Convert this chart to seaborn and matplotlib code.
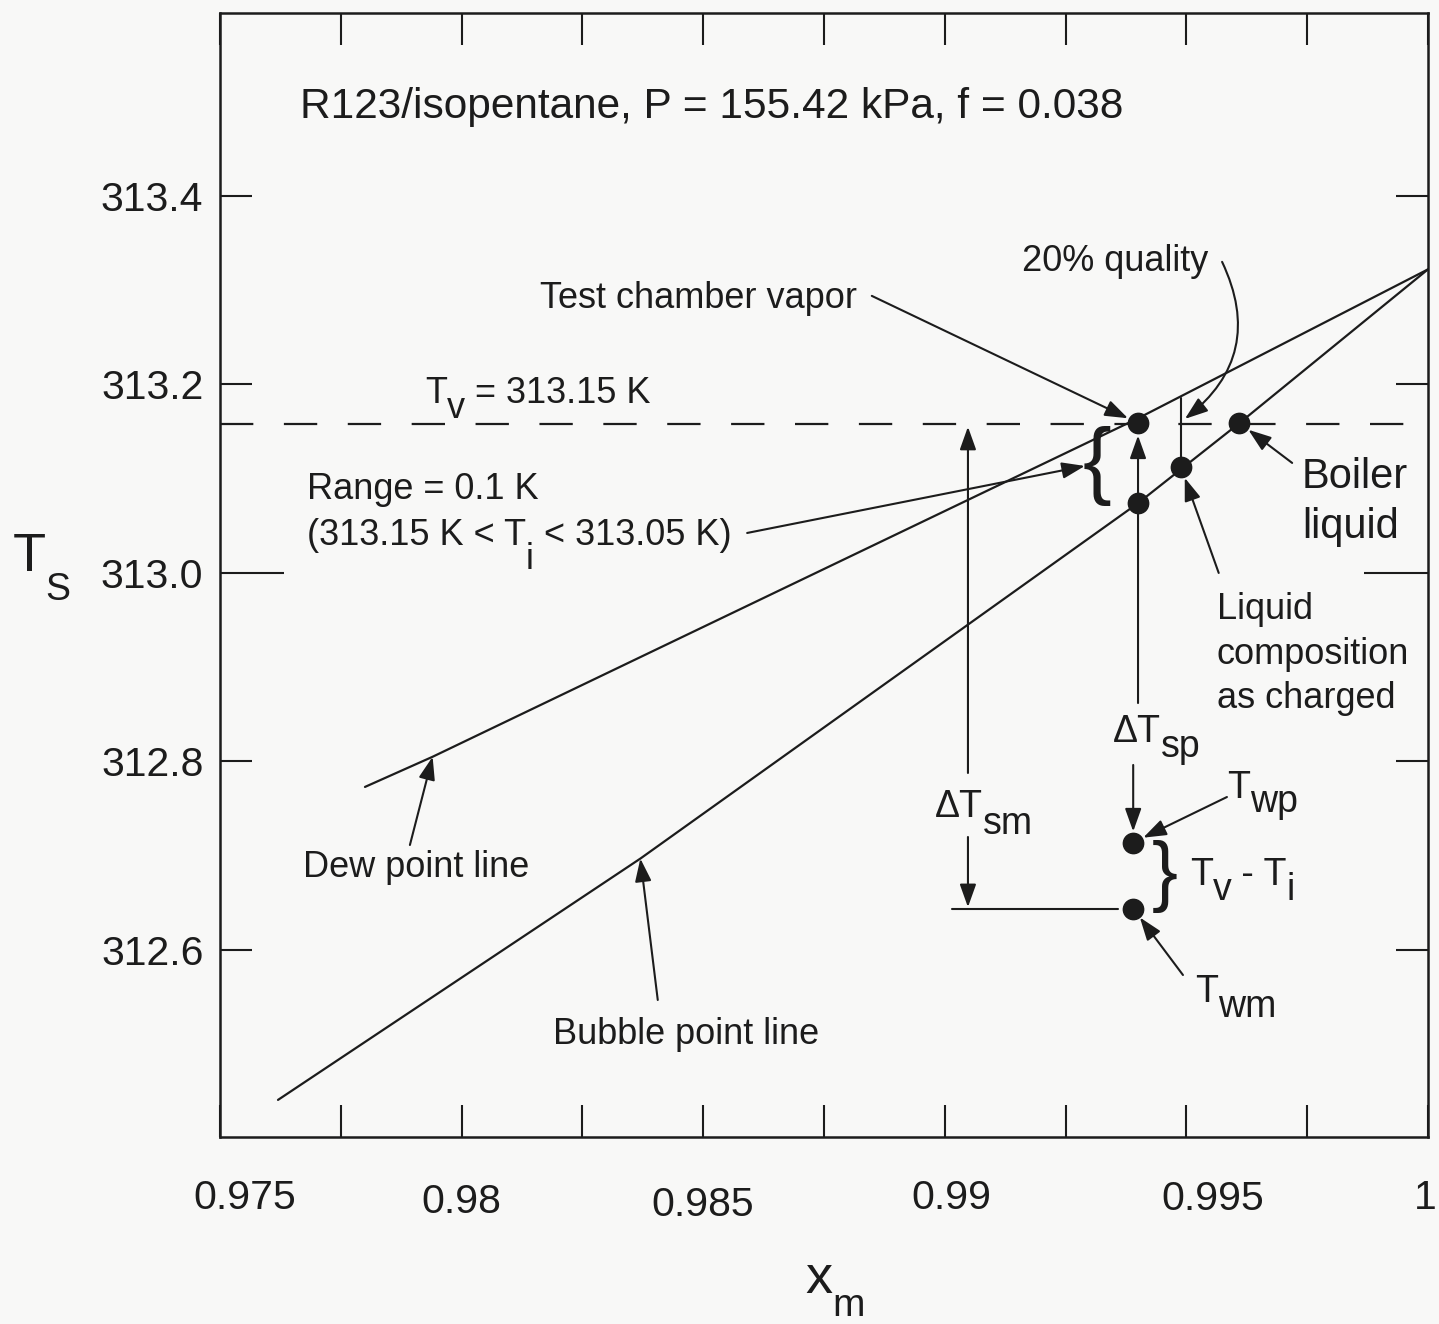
import matplotlib
matplotlib.use("Agg")
import matplotlib.pyplot as plt
from matplotlib.transforms import ScaledTranslation
import seaborn as sns

# dew / bubble point lines (x_m, T_s in K)
dew_x = [0.9780, 0.9794, 0.9940, 1.0]
dew_T = [312.773, 312.805, 313.164, 313.322]
bub_x = [0.9762, 0.9837, 0.9940, 0.9961, 1.0]
bub_T = [312.441, 312.697, 313.074, 313.159, 313.322]

# marked states: vapor, lower T_i, liquid as charged, boiler liquid, T_wp, T_wm
pt_x = [0.9940, 0.9940, 0.99489, 0.9961, 0.9939, 0.9939]
pt_T = [313.159, 313.074, 313.112, 313.159, 312.714, 312.644]

T_v = 313.158
T_dew_quality = 313.186   # top of the 20% quality tick (on dew line)

x_ticks = [0.975, 0.98, 0.985, 0.99, 0.995, 1.0]
x_ticklabels = ['0.975', '0.98', '0.985', '0.99', '0.995', '1']
x_minor = [0.9775, 0.9825, 0.9875, 0.9925, 0.9975]
y_ticks = [312.6, 312.8, 313.0, 313.2, 313.4]
y_ticklabels = ['312.6', '312.8', '313.0', '313.2', '313.4']

ink = '#1c1c1c'

sns.set_theme(style='ticks')
plt.rcParams['font.family'] = ['Liberation Sans', 'DejaVu Sans']
plt.rcParams['lines.scale_dashes'] = False

fig = plt.figure(figsize=(14.39, 13.24), dpi=100)
fig.patch.set_facecolor('#f8f8f7')
ax = fig.add_axes([0.1529, 0.1412, 0.8394, 0.8490])
ax.set_facecolor('#f8f8f7')

sns.lineplot(x=dew_x, y=dew_T, ax=ax, color=ink, lw=1.6, estimator=None)
sns.lineplot(x=bub_x, y=bub_T, ax=ax, color=ink, lw=1.6, estimator=None)
ax.axhline(T_v, color=ink, lw=1.6, dashes=(24, 22))
sns.scatterplot(x=pt_x, y=pt_T, ax=ax, s=210, color=ink, edgecolor=ink, zorder=5)

ax.set_xlim(0.975, 1.0)
ax.set_ylim(312.4016, 313.594)
ax.set_xlabel('')
ax.set_ylabel('')

ax.set_xticks(x_ticks)
ax.set_xticklabels(x_ticklabels)
ax.set_xticks(x_minor, minor=True)
ax.set_yticks(y_ticks)
ax.set_yticklabels(y_ticklabels)
ax.tick_params(axis='both', which='both', direction='in', length=23, width=1.5,
               top=True, right=True, labeltop=False, labelright=False,
               colors=ink, labelsize=29.5)
ax.tick_params(axis='x', which='major', pad=30)
ax.tick_params(axis='y', pad=12)
# the 313.0 tick is drawn longer on both sides
t3130 = ax.yaxis.get_major_ticks()[2]
t3130.tick1line.set_markersize(46)
t3130.tick2line.set_markersize(46)
for sp in ax.spines.values():
    sp.set_color(ink)
    sp.set_linewidth(1.8)

# the x labels sit a little off their ticks in the original
lab_dx = [25, 0, 0, 7, 26, -3]
lab_dy = [0, -4, -7, 0, -1, 0]
for lab, dx, dy in zip(ax.get_xticklabels(), lab_dx, lab_dy):
    lab.set_transform(lab.get_transform() + ScaledTranslation(dx / 100, dy / 100, fig.dpi_scale_trans))


def chain(x, y, pieces):
    # pieces: (text, shift in points from main baseline, size)
    s0, sh0, fs0 = pieces[0]
    prev = ax.text(x, y, s0, fontsize=fs0, color=ink, va='baseline', ha='left')
    cur = sh0
    for s, sh, fs in pieces[1:]:
        prev = ax.annotate(s, xy=(1, 0), xycoords=prev, xytext=(0, sh - cur),
                           textcoords='offset points', fontsize=fs, color=ink,
                           va='bottom', ha='left')
        cur = sh


def arrow(xy, xytext, shrink=0, conn='arc3'):
    ax.annotate('', xy=xy, xytext=xytext,
                arrowprops=dict(arrowstyle='-|>,head_length=0.7,head_width=0.25',
                                mutation_scale=20, color=ink, lw=1.5,
                                shrinkA=0, shrinkB=shrink, connectionstyle=conn))


# texts
ax.text(0.97666, 313.4828, 'R123/isopentane, P = 155.42 kPa, f = 0.038',
        fontsize=30.5, color=ink)
ax.text(0.98162, 313.2812, 'Test chamber vapor', fontsize=26, color=ink)
ax.text(0.99160, 313.3204, '20% quality', fontsize=26, color=ink)
chain(0.97924, 313.1804, [('T', 0, 26), ('v', -11, 26), (' = 313.15 K', 0, 26)])
ax.text(0.97680, 313.0785, 'Range = 0.1 K', fontsize=26, color=ink)
chain(0.97680, 313.0297, [('(313.15 K < T', 0, 26), ('i', -17, 26), (' < 313.05 K)', 0, 26)])
ax.text(0.99739, 313.0902, 'Boiler', fontsize=30, color=ink)
ax.text(0.99739, 313.0371, 'liquid', fontsize=30, color=ink)
ax.text(0.99563, 312.9512, 'Liquid', fontsize=26, color=ink)
ax.text(0.99563, 312.9034, 'composition', fontsize=26, color=ink)
ax.text(0.99563, 312.8568, 'as charged', fontsize=26, color=ink)
ax.text(0.97672, 312.6775, 'Dew point line', fontsize=26, color=ink)
ax.text(0.98189, 312.5003, 'Bubble point line', fontsize=26, color=ink)
chain(0.98980, 312.7411, [('\u0394T', 0, 27), ('sm', -12, 27)])
chain(0.99348, 312.8207, [('\u0394T', 0, 27), ('sp', -11, 27)])
chain(0.99584, 312.7613, [('T', 0, 27), ('wp', -10, 27)])
chain(0.99507, 312.6690, [('T', 0, 27), ('v', -11, 27), (' - T', 0, 27), ('i', -11, 27)])
chain(0.99518, 312.5448, [('T', 0, 27), ('wm', -11, 27)])
ax.text(0.99315, 313.1135, '{', fontsize=62, color=ink, ha='center', va='center')
ax.text(0.99456, 312.6775, '}', fontsize=56, color=ink, ha='center', va='center')

# axis titles
chain(0.97070, 313.0021, [('T', 0, 39), ('S', -19, 27)])
chain(0.98711, 312.2361, [('x', 0, 39), ('m', -14, 28)])

# arrows
arrow((pt_x[0], pt_T[0]), (0.98849, 313.2939), shrink=8)
arrow((0.99497, 313.1634), (0.99574, 313.3300), conn='arc3,rad=-0.4')
ax.plot([pt_x[2], pt_x[2]], [pt_T[2], T_dew_quality], color=ink, lw=1.5)
arrow((pt_x[3], pt_T[3]), (0.99719, 313.1167), shrink=8)
arrow((pt_x[2], pt_T[2]), (0.99567, 313.0000), shrink=8)
arrow((0.99290, 313.1135), (0.98591, 313.0424))
arrow((pt_x[0], pt_T[0]), (pt_x[0], 312.862), shrink=9)
arrow((pt_x[4], pt_T[4]), (pt_x[4], 312.7963), shrink=8)
arrow((0.99048, T_v), (0.99048, 312.7878), shrink=2)
arrow((0.99048, pt_T[5]), (0.99048, 312.7199), shrink=1)
ax.plot([0.99015, 0.99358], [pt_T[5], pt_T[5]], color=ink, lw=1.5)
arrow((pt_x[4], pt_T[4]), (0.99584, 312.7623), shrink=8)
arrow((pt_x[5], pt_T[5]), (0.99493, 312.5735), shrink=8)
arrow((dew_x[1], dew_T[1]), (0.97893, 312.7114))
arrow((bub_x[1], bub_T[1]), (0.98406, 312.5470))

fig.savefig('out.png', dpi=100, facecolor=fig.get_facecolor())
